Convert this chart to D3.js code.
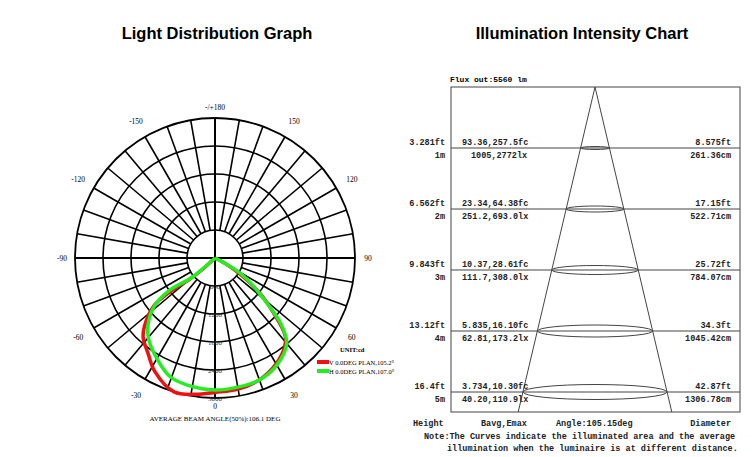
<!DOCTYPE html>
<html><head><meta charset="utf-8">
<script src="https://cdn.jsdelivr.net/npm/d3@7"></script>
<style>body{margin:0;background:#fff}</style></head>
<body><svg id="c" width="752" height="457"></svg>
<script>
// polar data: [angle deg (0 = down, negative = left), intensity cd]
const ringValues=[600,1200,1800,2400,3000];
const angleLabels=[180,150,120,90,60,30,0,-30,-60,-90,-120,-150];
const curveV=[[0,0],[-48,400],[-50,700],[-53,1150],[-52,1650],[-46,2100],[-42,2300],[-35,2500],[-28,2750],[-17,3000],[-8,2950],[0,2880],[10,2850],[20,2780],[30,2620],[38,2420],[42,2250],[47,1700],[52,1200],[57,650],[62,250],[0,0]];
const curveH=[[0,0],[-50,640],[-54.6,1180],[-52,1630],[-45,2030],[-38.8,2260],[-29.6,2500],[-20.7,2720],[-10,2800],[0,2830],[10,2810],[20,2780],[30,2650],[40,2390],[45,2000],[49,1470],[54,1000],[59,620],[62,200],[0,0]];
// illumination chart
const distM=[1,2,3,4,5];
const heightFt=["3.281ft","6.562ft","9.843ft","13.12ft","16.4ft"];
const heightM=["1m","2m","3m","4m","5m"];
const fcText=["93.36,257.5fc","23.34,64.38fc","10.37,28.61fc","5.835,16.10fc","3.734,10.30fc"];
const lxText=["1005,2772lx","251.2,693.0lx","111.7,308.0lx","62.81,173.2lx","40.20,110.9lx"];
const diaFt=["8.575ft","17.15ft","25.72ft","34.3ft","42.87ft"];
const diaCm=[261.36,522.71,784.07,1045.42,1306.78];

const svg=d3.select("#c");
const F="Arial, Liberation Sans, sans-serif", M="'Liberation Mono','DejaVu Sans Mono',monospace", S="Liberation Serif,serif";
svg.append("text").attr("x",217).attr("y",39).attr("text-anchor","middle").attr("font-family",F).attr("font-weight","bold").attr("font-size",16.5).text("Light Distribution Graph");
svg.append("text").attr("x",582).attr("y",39).attr("text-anchor","middle").attr("font-family",F).attr("font-weight","bold").attr("font-size",16.5).text("Illumination Intensity Chart");

// polar
const cx=215,cy=258;
const r=d3.scaleLinear().domain([0,3000]).range([0,140]);
const g=svg.append("g").attr("transform",`translate(${cx},${cy})`);
function xy(a,v){const t=a*Math.PI/180;return [Math.sin(t)*r(v),Math.cos(t)*r(v)];}
for(let a=0;a<360;a+=10){
  const full=(a%90===0);
  const p0=xy(a,full?0:600),p1=xy(a,3000);
  g.append("line").attr("x1",p0[0]).attr("y1",p0[1]).attr("x2",p1[0]).attr("y2",p1[1]).attr("stroke","#000").attr("stroke-width",full?2:1.6);
}
ringValues.forEach(v=>g.append("circle").attr("r",r(v)).attr("fill","none").attr("stroke","#000").attr("stroke-width",v===3000?1.8:1.6));
ringValues.forEach(v=>g.append("text").attr("x",0).attr("y",r(v)+3).attr("text-anchor","middle").attr("font-family",S).attr("font-size",7).attr("fill","#333").text(v));
angleLabels.forEach(a=>{
  let [x,y]=xy(a,3000*158/140);
  if(a===180)y=-151; if(a===0)y=148;
  if(Math.abs(a)===90)x=a>0?-153:153;
  g.append("text").attr("x",x).attr("y",y+3).attr("text-anchor","middle").attr("font-family",S).attr("font-size",7.5).attr("fill","#000").text(a===180?"-/+180":String(a===90?-90:a===-90?90:a));
});
const line=d3.line().x(d=>xy(d[0],d[1])[0]).y(d=>xy(d[0],d[1])[1]).curve(d3.curveCatmullRom);
g.append("path").attr("d",line(curveV)).attr("fill","none").attr("stroke","#f01010").attr("stroke-width",3.5);
g.append("path").attr("d",line(curveH)).attr("fill","none").attr("stroke","#22ee22").attr("stroke-width",3.5);
svg.append("text").attr("x",340).attr("y",352).attr("font-family",S).attr("font-size",6.5).attr("font-weight","bold").text("UNIT:cd");
[["#f01010","V 0.0DEG PLAN,105.2°",362],["#22ee22","H 0.0DEG PLAN,107.0°",371]].forEach(([c,t,y])=>{
  svg.append("line").attr("x1",317).attr("x2",329).attr("y1",y).attr("y2",y).attr("stroke",c).attr("stroke-width",4);
  svg.append("text").attr("x",329).attr("y",y+2.5).attr("font-family",S).attr("font-size",6.5).text(t);
});
svg.append("text").attr("x",215).attr("y",421).attr("text-anchor","middle").attr("font-family",S).attr("font-size",7).text("AVERAGE BEAM ANGLE(50%):106.1 DEG");

// illumination
const bx0=451,bx1=740,by0=87,by1=412,ax=595;
const y=d3.scaleLinear().domain([0,5]).range([by0,392]);
const hw=d3.scaleLinear().domain([0,1306.78]).range([0,68]);
svg.append("rect").attr("x",bx0).attr("y",by0).attr("width",bx1-bx0).attr("height",by1-by0).attr("fill","none").attr("stroke","#444").attr("stroke-width",1);
svg.append("text").attr("x",450).attr("y",82).attr("font-family",M).attr("font-weight","bold").attr("font-size",8).text("Flux out:5560 lm");
const mEnd=y.invert(by1), wEnd=hw(1306.78)*mEnd/5;
[-1,1].forEach(s=>svg.append("line").attr("x1",ax).attr("y1",by0).attr("x2",ax+s*wEnd*1.06).attr("y2",by1).attr("stroke","#444").attr("stroke-width",1));
const T=(x,yy,t,anc)=>svg.append("text").attr("x",x).attr("y",yy).attr("text-anchor",anc||"start").attr("font-family",M).attr("font-weight","bold").attr("font-size",8.5).attr("fill","#222").text(t);
distM.forEach((d,i)=>{
  const yy=y(d), w=hw(diaCm[i])*1.06;
  svg.append("line").attr("x1",bx0).attr("x2",bx1).attr("y1",yy).attr("y2",yy).attr("stroke","#444");
  svg.append("ellipse").attr("cx",ax).attr("cy",yy).attr("rx",w).attr("ry",1.5*d).attr("fill","none").attr("stroke","#444");
  T(445,yy-3,heightFt[i],"end"); T(445,yy+10,heightM[i],"end");
  T(462,yy-3,fcText[i]); T(i===0?471:462,yy+10,lxText[i]);
  T(731,yy-3,diaFt[i],"end"); T(731,yy+10,diaCm[i].toFixed(2)+"cm","end");
});
T(413,426,"Height"); T(481,426,"Bavg,Emax"); T(556,426,"Angle:105.15deg"); T(731,426,"Diameter","end");
T(424,439,"Note:The Curves indicate the illuminated area and the average");
T(447,451,"illumination when the luminaire is at different distance.");
</script></body></html>
